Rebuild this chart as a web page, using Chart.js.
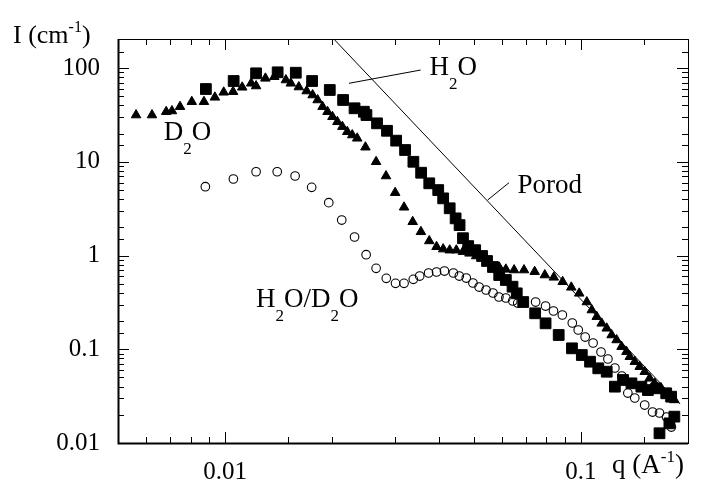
<!DOCTYPE html>
<html>
<head>
<meta charset="utf-8">
<script src="https://cdn.jsdelivr.net/npm/chart.js@4.4.0/dist/chart.umd.min.js"></script>
<style>
  html, body { margin: 0; padding: 0; background: #fff; }
  #wrap { width: 702px; height: 491px; }
</style>
</head>
<body>
<div id="wrap"><canvas id="chartSans" width="702" height="491"></canvas></div>
<script>
//Data (q in A^-1, I in cm^-1)
const q_h2o = [0.00883, 0.01057, 0.01222, 0.01405, 0.0158, 0.01756, 0.01969, 0.02146, 0.02311, 0.02455,
  0.02496, 0.02673, 0.02851, 0.03025, 0.03205, 0.03382, 0.03556, 0.03748, 0.03972, 0.04101,
  0.04278, 0.04445, 0.04561, 0.04662, 0.04823, 0.05045, 0.05275, 0.05447, 0.05661, 0.05894,
  0.06153, 0.06424, 0.06603, 0.06885, 0.07438, 0.07956, 0.08662, 0.09438, 0.1006, 0.1061,
  0.1119, 0.1182, 0.1246, 0.1314, 0.1387, 0.1479, 0.1543, 0.1628, 0.1737, 0.1793,
  0.1831, 0.1773, 0.1663];
const i_h2o = [59.7, 72.7, 87.8, 90.0, 89.1, 72.7, 58.3, 45.6, 37.2, 34.2,
  31.5, 25.7, 21.4, 16.8, 13.35, 10.0, 7.64, 5.89, 4.99, 4.07,
  3.19, 2.49, 2.11, 1.53, 1.26, 1.14, 0.988, 0.874, 0.754, 0.619,
  0.548, 0.465, 0.395, 0.319, 0.2418, 0.189, 0.1419, 0.1023, 0.0868, 0.0737,
  0.0626, 0.0576, 0.0399, 0.047, 0.0433, 0.0399, 0.0367, 0.0383, 0.0339, 0.0312,
  0.0191, 0.0162, 0.0127];

const q_d2o = [0.00562, 0.00623, 0.00683, 0.00709, 0.00747, 0.00806, 0.00872, 0.00936, 0.00991, 0.01053,
  0.01117, 0.01184, 0.01222, 0.01298, 0.01375, 0.01482, 0.0153, 0.01611, 0.01695, 0.01762,
  0.0182, 0.01879, 0.0194, 0.02003, 0.02068, 0.02136, 0.02205, 0.02277, 0.02351, 0.0248,
  0.02657, 0.02833, 0.03006, 0.03184, 0.03367, 0.03551, 0.03748, 0.03929, 0.04101, 0.04278,
  0.04466, 0.04662, 0.04862, 0.05077, 0.05309, 0.05553, 0.05894, 0.06153, 0.06491, 0.0692,
  0.07414, 0.07919, 0.08391, 0.08886, 0.09397, 0.09892, 0.1039, 0.1073, 0.1108, 0.1144,
  0.1182, 0.122, 0.126, 0.1301, 0.1343, 0.1372, 0.1417, 0.1463, 0.1511, 0.156,
  0.1611, 0.1681, 0.1754, 0.1831];
const i_d2o = [31.5, 31.5, 34.2, 34.8, 38.7, 43.7, 43.7, 48.7, 55.1, 55.9,
  62.3, 68.7, 64.3, 77.6, 80.8, 74.5, 68.7, 62.7, 56.8, 51.5,
  45.6, 38.7, 34.2, 30.2, 26.7, 23.7, 20.9, 19.3, 17.8, 14.3,
  10.0, 7.05, 4.68, 3.27, 2.29, 1.79, 1.43, 1.24, 1.17, 1.14,
  1.14, 1.10, 1.055, 0.988, 0.94, 0.852, 0.748, 0.712, 0.700, 0.700,
  0.672, 0.619, 0.585, 0.525, 0.458, 0.395, 0.319, 0.262, 0.2225, 0.189,
  0.1673, 0.1419, 0.1256, 0.1065, 0.0942, 0.0833, 0.0737, 0.0652, 0.0576, 0.049,
  0.0433, 0.0383, 0.0339, 0.0288];

const q_mix = [0.0088, 0.01055, 0.01222, 0.01401, 0.01573, 0.01751, 0.01956, 0.02127, 0.02311, 0.02491,
  0.02657, 0.02838, 0.03013, 0.03184, 0.0338, 0.03523, 0.03732, 0.03929, 0.04135, 0.04381,
  0.04553, 0.04762, 0.04972, 0.05175, 0.05412, 0.05661, 0.05883, 0.06153, 0.06435, 0.06645,
  0.07459, 0.07956, 0.08374, 0.08868, 0.09458, 0.09829, 0.1028, 0.1082, 0.1139, 0.1191,
  0.1246, 0.1303, 0.1355, 0.1417, 0.1511, 0.159, 0.1663, 0.174, 0.1796];
const i_mix = [5.42, 6.55, 7.83, 7.83, 7.05, 5.34, 3.66, 2.39, 1.575, 1.02,
  0.73, 0.571, 0.505, 0.505, 0.557, 0.604, 0.651, 0.667, 0.683, 0.651,
  0.604, 0.575, 0.509, 0.461, 0.4285, 0.398, 0.361, 0.352, 0.327, 0.311,
  0.319, 0.289, 0.256, 0.232, 0.1905, 0.1604, 0.135, 0.1166, 0.0935, 0.0787,
  0.0631, 0.0518, 0.0341, 0.0302, 0.0254, 0.0214, 0.0209, 0.0189, 0.0148];

//Porod line end points (I ~ q^-4)
const q_porod = [0.0200, 0.19];
const i_porod = [212.5, 0.0261];

//Axis ranges and labelled ticks
const x_range = [0.005, 0.2];
const y_range = [0.01, 204];
const x_labels = [0.01, 0.1];
const y_labels = [0.01, 0.1, 1, 10, 100];

function toPoints(qs, is) {
  return qs.map((q, k) => ({ x: q, y: is[k] }));
}
function isDecade(v) {
  const lg = Math.log10(v);
  return Math.abs(lg - Math.round(lg)) < 1e-6;
}
function labelFor(v, list) {
  for (var k = 0; k < list.length; k++) {
    if (Math.abs(v - list[k]) / list[k] < 1e-6) return String(list[k]);
  }
  return '';
}

const SERIF = "'Liberation Serif', 'Times New Roman', 'DejaVu Serif', serif";

//draws text pieces, subscript and superscript
function drawRich(ctx, x, y, parts, size) {
  var cx = x;
  parts.forEach(p => {
    var s = size, dy = 0;
    if (p[1] == 'sub') { s = Math.round(size * 0.64); dy = size * 0.52; }
    if (p[1] == 'sup') { s = Math.round(size * 0.62); dy = -size * 0.42; }
    ctx.font = s + 'px ' + SERIF;
    ctx.fillText(p[0], cx, y + dy);
    cx += ctx.measureText(p[0]).width;
  });
}

//Frame, inside ticks and text labels
const framePlugin = {
  id: 'framePlugin',
  afterDraw(chart) {
    const ctx = chart.ctx;
    const a = chart.chartArea;
    const xs = chart.scales.x, ys = chart.scales.y;
    ctx.save();
    ctx.strokeStyle = '#000';
    ctx.lineWidth = 1;
    ctx.beginPath();
    xs.ticks.forEach(t => {
      const px = Math.round(xs.getPixelForValue(t.value)) + 0.5;
      if (px <= a.left + 2 || px >= a.right - 2) return;
      const len = isDecade(t.value) ? 11 : 6;
      ctx.moveTo(px, a.bottom); ctx.lineTo(px, a.bottom - len);
      ctx.moveTo(px, a.top); ctx.lineTo(px, a.top + len);
    });
    ys.ticks.forEach(t => {
      const py = Math.round(ys.getPixelForValue(t.value)) + 0.5;
      if (py <= a.top + 2 || py >= a.bottom - 2) return;
      const len = isDecade(t.value) ? 11 : 6;
      ctx.moveTo(a.left, py); ctx.lineTo(a.left + len, py);
      ctx.moveTo(a.right, py); ctx.lineTo(a.right - len, py);
    });
    ctx.stroke();
    ctx.strokeRect(a.left + 0.5, a.top + 0.5, a.right - a.left, a.bottom - a.top);
    ctx.lineWidth = 2;
    ctx.beginPath();
    ctx.moveTo(a.left + 0.5, a.top); ctx.lineTo(a.left + 0.5, a.bottom + 0.5);
    ctx.lineTo(a.right, a.bottom + 0.5);
    ctx.stroke();

    //leader lines
    ctx.lineWidth = 1;
    ctx.beginPath();
    ctx.moveTo(xs.getPixelForValue(0.02229), ys.getPixelForValue(68.7));
    ctx.lineTo(xs.getPixelForValue(0.03545), ys.getPixelForValue(95.2));
    ctx.moveTo(xs.getPixelForValue(0.0547), ys.getPixelForValue(3.91));
    ctx.lineTo(xs.getPixelForValue(0.0628), ys.getPixelForValue(5.98));
    ctx.stroke();

    ctx.fillStyle = '#000';
    ctx.textBaseline = 'alphabetic';
    ctx.textAlign = 'left';
    drawRich(ctx, xs.getPixelForValue(0.03756), ys.getPixelForValue(84.2), [['H'], ['2', 'sub'], ['O']], 27);
    drawRich(ctx, xs.getPixelForValue(0.00672), ys.getPixelForValue(17.06), [['D'], ['2', 'sub'], ['O']], 27);
    drawRich(ctx, xs.getPixelForValue(0.0663), ys.getPixelForValue(4.64), [['Porod']], 27);
    drawRich(ctx, xs.getPixelForValue(0.01222), ys.getPixelForValue(0.284),
      [['H'], ['2', 'sub'], ['O/D'], ['2', 'sub'], ['O']], 27);

    //axis titles
    drawRich(ctx, a.left - 105, a.top + 4, [['I (cm'], ['-1', 'sup'], [')']], 26);
    drawRich(ctx, a.right - 76, a.bottom + 30, [['q (A'], ['-1', 'sup'], [')']], 27);
    ctx.restore();
  }
};

const config_saxs = {
  type: 'scatter',
  data: {
    datasets: [
      {
        label: 'Porod',
        type: 'line',
        data: toPoints(q_porod, i_porod),
        borderColor: '#000',
        borderWidth: 1,
        pointRadius: 0,
        fill: false,
        tension: 0
      },
      {
        label: 'H2O/D2O',
        data: toPoints(q_mix, i_mix),
        pointStyle: 'circle',
        pointRadius: 4.3,
        backgroundColor: 'rgba(255,255,255,0)',
        borderColor: '#000',
        borderWidth: 1.1
      },
      {
        label: 'D2O',
        data: toPoints(q_d2o, i_d2o),
        pointStyle: 'triangle',
        pointRadius: 5.5,
        backgroundColor: '#000',
        borderColor: '#000',
        borderWidth: 1
      },
      {
        label: 'H2O',
        data: toPoints(q_h2o, i_h2o),
        pointStyle: 'rect',
        pointRadius: 7.6,
        backgroundColor: '#000',
        borderColor: '#000',
        borderWidth: 1
      }
    ]
  },
  options: {
    responsive: false,
    animation: false,
    layout: { padding: { top: 39, right: 9, left: 0, bottom: 0 } },
    plugins: { legend: { display: false }, tooltip: { enabled: false } },
    scales: {
      x: {
        type: 'logarithmic',
        position: 'bottom',
        min: x_range[0],
        max: x_range[1],
        grid: { display: false, drawTicks: false },
        border: { display: false },
        ticks: {
          autoSkip: false,
          maxRotation: 0,
          padding: 14,
          color: '#000',
          font: { family: SERIF, size: 25 },
          callback: (v) => labelFor(v, x_labels)
        },
        afterFit: (scale) => { scale.height = 48; }
      },
      y: {
        type: 'logarithmic',
        position: 'left',
        min: y_range[0],
        max: y_range[1],
        grid: { display: false, drawTicks: false },
        border: { display: false },
        ticks: {
          autoSkip: false,
          padding: 18,
          color: '#000',
          font: { family: SERIF, size: 25 },
          callback: (v) => labelFor(v, y_labels)
        },
        afterFit: (scale) => { scale.width = 118; }
      }
    }
  },
  plugins: [framePlugin]
};

const chartSaxs = new Chart(document.getElementById('chartSans'), config_saxs);
</script>
</body>
</html>
